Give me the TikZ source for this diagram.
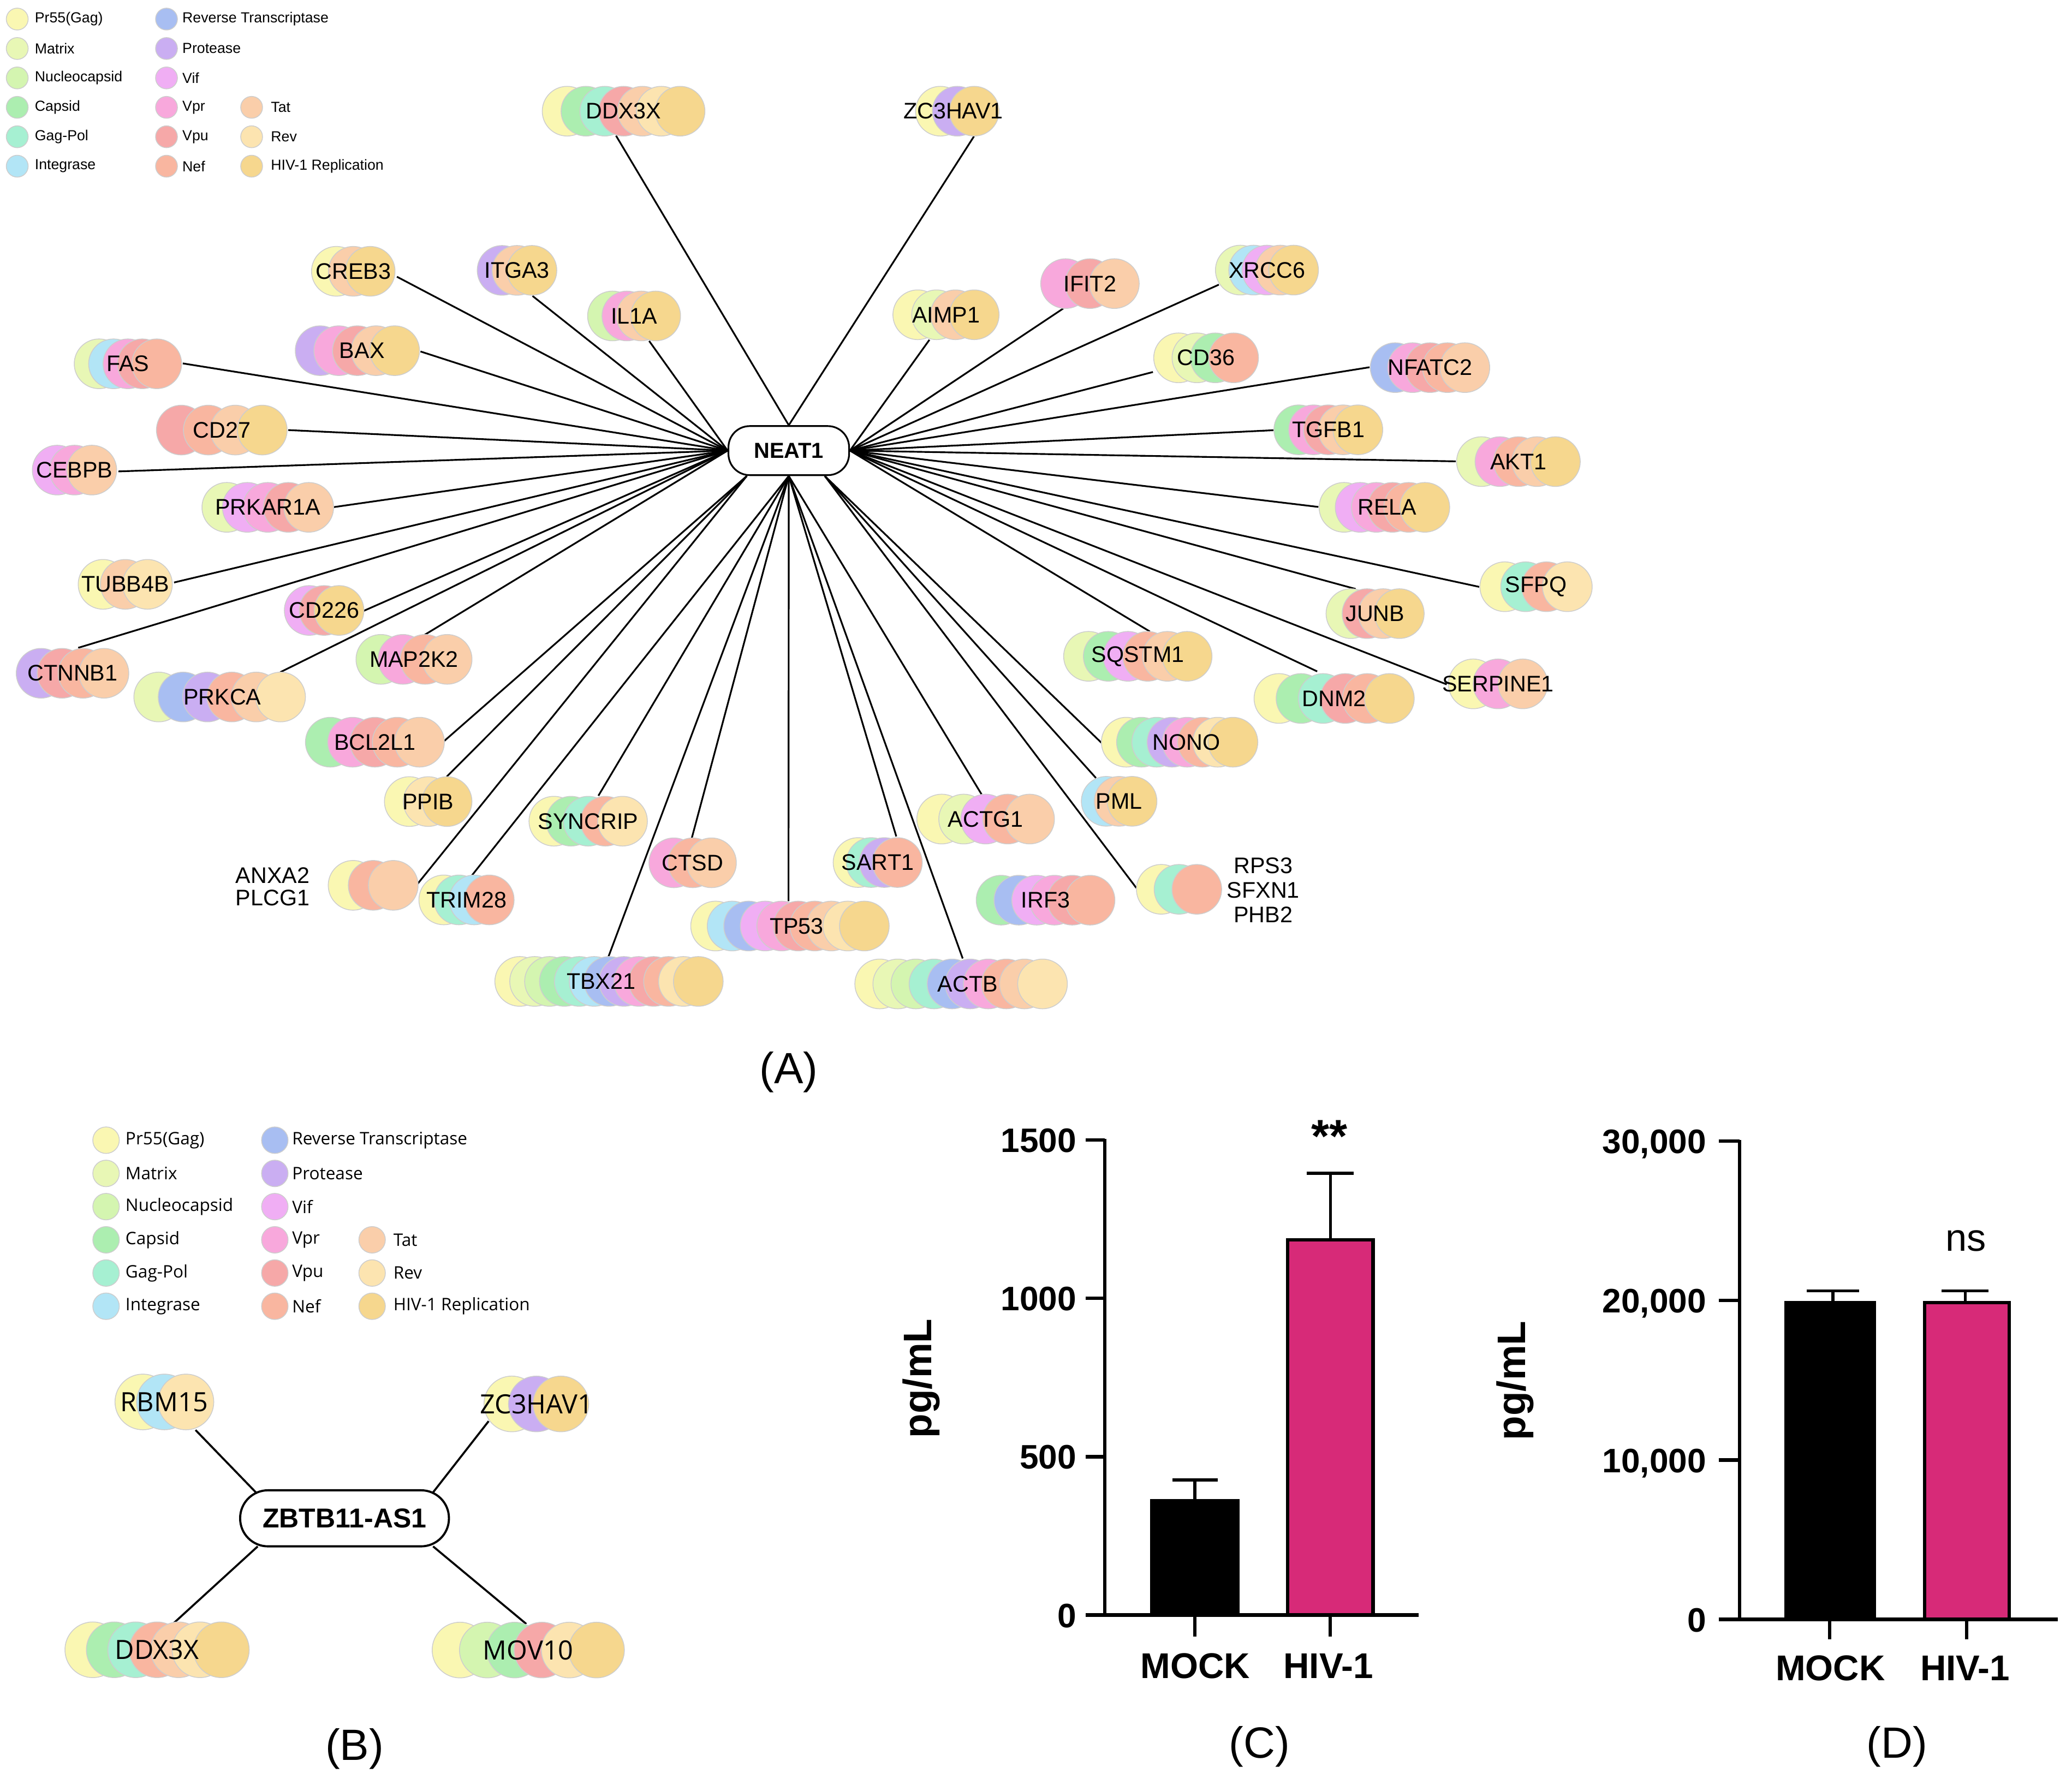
\documentclass[tikz,border=0pt]{standalone}
\usepackage{fontspec}
\setmainfont{Liberation Sans}
\newfontfamily\opensans{Open Sans}
\usetikzlibrary{calc}
\pgfdeclarelayer{bottom}
\pgfdeclarelayer{edges}
\pgfsetlayers{bottom,edges,main}
\definecolor{c1}{RGB}{250,247,178}
\definecolor{c2}{RGB}{232,247,181}
\definecolor{c3}{RGB}{212,245,176}
\definecolor{c4}{RGB}{172,238,176}
\definecolor{c5}{RGB}{166,240,210}
\definecolor{c6}{RGB}{178,229,246}
\definecolor{c7}{RGB}{168,190,242}
\definecolor{c8}{RGB}{202,174,242}
\definecolor{c9}{RGB}{240,174,244}
\definecolor{c10}{RGB}{248,168,220}
\definecolor{c11}{RGB}{246,168,168}
\definecolor{c12}{RGB}{249,182,160}
\definecolor{c13}{RGB}{250,206,170}
\definecolor{c14}{RGB}{252,228,176}
\definecolor{c15}{RGB}{246,215,142}
\definecolor{circgray}{RGB}{205,205,205}
\definecolor{hivpink}{RGB}{215,42,120}
\newcommand\fGene{\fontsize{8.5pt}{10pt}\selectfont}
\newcommand\fLegA{\fontsize{5.5pt}{6.5pt}\selectfont}
\newcommand\fLegB{\opensans\fontsize{6.5pt}{7.5pt}\selectfont}
\newcommand\fGeneB{\opensans\fontsize{10pt}{11pt}\selectfont}
\newcommand\fHub{\bfseries\fontsize{8.2pt}{9pt}\selectfont}
\newcommand\fHubB{\bfseries\fontsize{10.3pt}{11pt}\selectfont}
\newcommand\fTick{\bfseries\fontsize{12.8pt}{14pt}\selectfont}
\newcommand\fCat{\bfseries\fontsize{13.5pt}{15pt}\selectfont}
\newcommand\fAxis{\bfseries\fontsize{15pt}{16pt}\selectfont}
\newcommand\fPanel{\fontsize{16.5pt}{18pt}\selectfont}
\newcommand\fNs{\fontsize{14.5pt}{16pt}\selectfont}
\newcommand\fStar{\bfseries\fontsize{17.5pt}{19pt}\selectfont}
\tikzset{
  gcirc/.style={draw=circgray, line width=0.3pt},
  glabA/.style={inner sep=0pt, font=\fGene, align=center},
  glabB/.style={inner sep=0pt, font=\fGeneB, align=center},
  lnk/.style={line width=0.65pt, black},
  lnkB/.style={line width=0.75pt, black},
  hub/.style={draw, fill=white, line width=0.65pt, rounded corners=8pt, minimum width=45.5pt, minimum height=18.5pt, inner sep=0pt, font=\fHub},
  hubB/.style={draw, fill=white, line width=0.8pt, rounded corners=10.5pt, minimum width=78.75pt, minimum height=21.15pt, inner sep=0pt, font=\fHubB},
  legAc/.style={circle, draw=circgray, line width=0.3pt, minimum size=8.25pt, inner sep=0pt},
  legAt/.style={anchor=west, inner sep=0pt, font=\fLegA},
  legBc/.style={circle, draw=circgray, line width=0.3pt, minimum size=10pt, inner sep=0pt},
  legBt/.style={anchor=west, inner sep=0pt, font=\fLegB},
  axisl/.style={line width=1.3pt, black},
  errl/.style={line width=1.1pt, black},
  tickl/.style={font=\fTick, inner sep=0pt, anchor=base east},
  catl/.style={font=\fCat, inner sep=0pt, anchor=base},
  ylab/.style={font=\fAxis, inner sep=0pt, rotate=90},
  starl/.style={font=\fStar, inner sep=0pt, anchor=base},
  nsl/.style={font=\fNs, inner sep=0pt, anchor=base},
  panl/.style={font=\fPanel, inner sep=0pt}
}
% #1 name, #2 cx, #3 cy, #4 width, #5 n, #6 colours, #7 label, #8 diameter, #9 label style
\newcommand\genebase[9]{%
  \foreach \cc [count=\ii from 0] in {#6}{%
    \pgfmathsetmacro\gx{#2-#4/2+#8/2+\ii*(#4-#8)/(#5-1)}%
    \filldraw[gcirc, fill=\cc] (\gx,#3) circle[radius=#8/2];
  }%
  \node[#9, minimum width=#4*0.5pt, minimum height=#8*0.5pt] (#1) at (#2,#3) {#7};
}
% optional first argument: horizontal shift of the label (in picture units)
\newcommand\geneA[8][0]{\genebase{#2}{#3}{#4}{#5}{#6}{#7}{\kern#1pt #8}{37.5}{glabA}}
\newcommand\geneB[7]{\genebase{#1}{#2}{#3}{#4}{#5}{#6}{#7}{42}{glabB}}
\begin{document}
\begin{tikzpicture}[x=0.5pt,y=-0.5pt]
\useasboundingbox (0,0) rectangle (1563,1342);
\begin{pgfonlayer}{bottom}
\fill[white] (0,0) rectangle (1563,1342);
\end{pgfonlayer}

% ---------------- legend A
\foreach \tx/\cl/\k in {Pr55(Gag)/c1/0, Matrix/c2/1, Nucleocapsid/c3/2, Capsid/c4/3, Gag-Pol/c5/4, Integrase/c6/5}{
  \node[legAc, fill=\cl] (lAca\k) at (13,{14.4+22.2*\k}) {};
  \node[legAt] (lAta\k) at (25.9,{14.4+22.2*\k}) {\tx};
}
\foreach \tx/\cl/\k in {Reverse Transcriptase/c7/0, Protease/c8/1, Vif/c9/2, Vpr/c10/3, Vpu/c11/4, Nef/c12/5}{
  \node[legAc, fill=\cl] (lAcb\k) at (125.6,{14.4+22.2*\k}) {};
  \node[legAt] (lAtb\k) at (137.2,{14.4+22.2*\k}) {\tx};
}
\foreach \tx/\cl/\k in {Tat/c13/3, Rev/c14/4, HIV-1 Replication/c15/5}{
  \node[legAc, fill=\cl] (lAcc\k) at (189.8,{14.4+22.2*\k}) {};
  \node[legAt] (lAtc\k) at (204,{14.4+22.2*\k}) {\tx};
}

% ---------------- network A
\geneA{ddx}{470.4}{83.9}{122.7}{7}{c1,c4,c5,c11,c13,c14,c15}{DDX3X}
\geneA[-3]{zc}{722.1}{83.9}{63}{3}{c1,c8,c15}{ZC3HAV1}
\geneA{creb}{266.5}{204.7}{63}{3}{c1,c13,c15}{CREB3}
\geneA{itga}{390}{204}{60}{3}{c8,c13,c15}{ITGA3}
\geneA{ilia}{478.3}{238.4}{70.1}{4}{c3,c10,c13,c15}{IL1A}
\geneA{fas}{96.5}{274.5}{81}{5}{c2,c6,c10,c11,c12}{FAS}
\geneA[3.5]{bax}{269.6}{264.6}{93.7}{5}{c8,c10,c11,c13,c15}{BAX}
\geneA{cdtwo}{167.3}{324.5}{98.6}{4}{c11,c12,c13,c15}{CD27}
\geneA{cebpb}{56.2}{354.7}{63.6}{3}{c9,c10,c13}{CEBPB}
\geneA{prkar}{202}{382.8}{99.3}{5}{c2,c9,c10,c11,c13}{PRKAR1A}
\geneA{tubb}{94.5}{440.9}{71}{3}{c1,c13,c14}{TUBB4B}
\geneA{cdtt}{244.5}{460.6}{60}{3}{c9,c11,c15}{CD226}
\geneA{ctnnb}{54.7}{508}{84.9}{4}{c8,c11,c12,c13}{CTNNB1}
\geneA[2]{prkca}{165.7}{525.9}{129.4}{6}{c2,c7,c8,c12,c13,c14}{PRKCA}
\geneA{mapk}{312.3}{497.5}{87.5}{4}{c3,c10,c12,c13}{MAP2K2}
\geneA{bcl}{282.8}{560}{104.8}{5}{c4,c10,c11,c12,c13}{BCL2L1}
\geneA{ppib}{323}{604.8}{66}{3}{c1,c14,c15}{PPIB}
\geneA{anx}{281.5}{668}{67.8}{3}{c1,c12,c13}{}
\node[inner sep=0pt, align=center, font=\fontsize{8.5pt}{8.5pt}\selectfont] (anxlab) at (205.7,669) {ANXA2\\PLCG1};
\geneA{trim}{351.9}{679}{71.8}{4}{c1,c5,c6,c12}{TRIM28}
\geneA{syn}{443.7}{619.6}{89.3}{5}{c1,c4,c5,c12,c14}{SYNCRIP}
\geneA{ctsd}{522.5}{651}{65.9}{3}{c10,c12,c13}{CTSD}
\geneA[-6]{tbx}{459.4}{740.5}{172.2}{13}{c1,c2,c3,c4,c5,c6,c7,c8,c10,c11,c12,c14,c15}{TBX21}
\geneA[5]{tp}{595.9}{698.7}{149.7}{10}{c1,c6,c7,c9,c10,c11,c12,c13,c14,c15}{TP53}
\geneA{sart}{662.1}{650.8}{67.2}{4}{c1,c5,c8,c12}{SART1}
\geneA{actg}{743.5}{618}{103.8}{5}{c1,c2,c9,c12,c13}{ACTG1}
\geneA[5]{actb}{725}{742.4}{160.3}{10}{c1,c2,c3,c5,c7,c8,c10,c12,c13,c14}{ACTB}
\geneA{irf}{788.7}{679.2}{104.6}{6}{c4,c7,c9,c10,c11,c12}{IRF3}
\geneA{rps}{889.4}{671}{64.3}{3}{c1,c5,c12}{}
\node[inner sep=0pt, align=center, font=\fontsize{8.5pt}{9.3pt}\selectfont] (rpslab) at (952.9,671.5) {RPS3\\SFXN1\\PHB2};
\geneA{pml}{844.2}{604.6}{57}{3}{c6,c13,c15}{PML}
\geneA[5]{nono}{889.8}{560}{118}{8}{c1,c4,c5,c8,c10,c12,c14,c15}{NONO}
\geneA{sqstm}{858.3}{495.2}{111.9}{6}{c2,c4,c9,c12,c13,c15}{SQSTM1}
\geneA{dnm}{1006.4}{527}{120.8}{6}{c1,c4,c5,c11,c12,c15}{DNM2}
\geneA{serp}{1130}{516}{74.9}{3}{c1,c10,c13}{SERPINE1}
\geneA{junb}{1037.3}{463}{74}{4}{c2,c11,c13,c15}{JUNB}
\geneA{sfpq}{1158.7}{442.7}{84.7}{4}{c1,c5,c12,c14}{SFPQ}
\geneA[2]{rela}{1044.3}{382.8}{98.5}{6}{c2,c9,c10,c11,c12,c15}{RELA}
\geneA{akt}{1145.4}{348.3}{93.3}{5}{c2,c10,c12,c13,c15}{AKT1}
\geneA{tgfb}{1002}{324.3}{82.1}{5}{c4,c10,c11,c13,c15}{TGFB1}
\geneA{nfat}{1078.7}{277.4}{90.1}{5}{c7,c10,c11,c12,c13}{NFATC2}
\geneA{cdts}{909.8}{270}{79}{4}{c1,c2,c4,c12}{CD36}
\geneA{xrcc}{955.7}{203.8}{77.7}{5}{c2,c6,c9,c13,c15}{XRCC6}
\geneA{ifit}{822.2}{214}{74.3}{3}{c10,c11,c13}{IFIT2}
\geneA{aimp}{713.6}{237.5}{80.1}{4}{c1,c2,c13,c15}{AIMP1}

\node[hub] (neat) at (595,340) {NEAT1};
\coordinate (nSW) at ($(neat.south west)+(14.5,0)$);
\coordinate (nSE) at ($(neat.south east)+(-19,0)$);

\begin{pgfonlayer}{edges}
% north
\draw[lnk] (neat.north) -- ($(ddx)+(-5.7,18.5)$);
\draw[lnk] (neat.north) -- ($(zc)+(12.6,19)$);
% west
\draw[lnk] (neat.west) -- ($(creb)+(32.9,4.1)$);
\draw[lnk] (neat.west) -- ($(itga)+(11.7,19.3)$);
\draw[lnk] (neat.west) -- ($(ilia)+(11.4,18.9)$);
\draw[lnk] (neat.west) -- ($(fas)+(41.4,-0.3)$);
\draw[lnk] (neat.west) -- ($(bax)+(47.6,0.6)$);
\draw[lnk] (neat.west) -- ($(cdtwo)+(50.1,0)$);
\draw[lnk] (neat.west) -- ($(cebpb)+(33.1,1)$);
\draw[lnk] (neat.west) -- ($(prkar)+(50,-0.2)$);
\draw[lnk] (neat.west) -- ($(tubb)+(36.8,-1.4)$);
\draw[lnk] (neat.west) -- ($(cdtt)+(29.9,0.3)$);
\draw[lnk] (neat.west) -- ($(ctnnb)+(4.3,-19.2)$);
\draw[lnk] (neat.west) -- ($(prkca)+(45.7,-18.7)$);
\draw[lnk] (neat.west) -- ($(mapk)+(7.7,-18.3)$);
% south-west
\draw[lnk] (nSW) -- ($(bcl)+(52.4,-1)$);
\draw[lnk] (nSW) -- ($(ppib)+(14,-18.8)$);
\draw[lnk] (nSW) -- ($(anx)+(32.7,-0.1)$);
% south
\draw[lnk] (neat.south) -- ($(trim)+(4.1,-18.5)$);
\draw[lnk] (neat.south) -- ($(syn)+(7.7,-19.2)$);
\draw[lnk] (neat.south) -- ($(ctsd)+(-0.7,-18.5)$);
\draw[lnk] (neat.south) -- ($(tbx)+(-0.4,-18.7)$);
\draw[lnk] (neat.south) -- ($(tp)+(-1.1,-18.7)$);
\draw[lnk] (neat.south) -- ($(sart)+(14,-19.7)$);
\draw[lnk] (neat.south) -- ($(actg)+(-3.1,-18.7)$);
\draw[lnk] (neat.south) -- ($(actb)+(1.2,-19.2)$);
% south-east
\draw[lnk] (nSE) -- ($(rps)+(-32.2,-1)$);
\draw[lnk] (nSE) -- ($(pml)+(-17.5,-17.6)$);
\draw[lnk] (nSE) -- ($(nono)+(-59,0.4)$);
% east
\draw[lnk] (neat.east) -- ($(sqstm)+(9.1,-18.7)$);
\draw[lnk] (neat.east) -- ($(dnm)+(-12.8,-20.4)$);
\draw[lnk] (neat.east) -- ($(serp)+(-38.7,0.4)$);
\draw[lnk] (neat.east) -- ($(junb)+(-14.7,-18.6)$);
\draw[lnk] (neat.east) -- ($(sfpq)+(-42.9,0.1)$);
\draw[lnk] (neat.east) -- ($(rela)+(-49.8,-0.3)$);
\draw[lnk] (neat.east) -- ($(akt)+(-47.2,-0.2)$);
\draw[lnk] (neat.east) -- ($(tgfb)+(-41.1,0.3)$);
\draw[lnk] (neat.east) -- ($(nfat)+(-45.6,-0.3)$);
\draw[lnk] (neat.east) -- ($(cdts)+(-40.1,10.7)$);
\draw[lnk] (neat.east) -- ($(xrcc)+(-36.3,11)$);
\draw[lnk] (neat.east) -- ($(ifit)+(-20.2,18.8)$);
\draw[lnk] (neat.east) -- ($(aimp)+(-12.5,18.9)$);
\end{pgfonlayer}

\node[panl] (pA) at (595,809) {(A)};

% ---------------- legend B
\foreach \tx/\cl/\k in {Pr55(Gag)/c1/0, Matrix/c2/1, Nucleocapsid/c3/2, Capsid/c4/3, Gag-Pol/c5/4, Integrase/c6/5}{
  \node[legBc, fill=\cl] (lBca\k) at (80,{860.3+25.06*\k}) {};
  \node[legBt] (lBta\k) at (94.3,{860.3+25.06*\k}) {\tx};
}
\foreach \tx/\cl/\k in {Reverse Transcriptase/c7/0, Protease/c8/1, Vif/c9/2, Vpr/c10/3, Vpu/c11/4, Nef/c12/5}{
  \node[legBc, fill=\cl] (lBcb\k) at (207.3,{860.3+25.06*\k}) {};
  \node[legBt] (lBtb\k) at (220,{860.3+25.06*\k}) {\tx};
}
\foreach \tx/\cl/\k in {Tat/c13/3, Rev/c14/4, HIV-1 Replication/c15/5}{
  \node[legBc, fill=\cl] (lBcc\k) at (280.7,{860.3+25.06*\k}) {};
  \node[legBt] (lBtc\k) at (296.4,{860.3+25.06*\k}) {\tx};
}

% ---------------- network B
\geneB{rbm}{124}{1057.8}{74.5}{3}{c1,c6,c14}{RBM15}
\geneB{zcb}{404.6}{1059.3}{79}{3}{c1,c8,c15}{ZC3HAV1}
\geneB{ddxb}{118.5}{1244.8}{139}{7}{c1,c4,c5,c12,c13,c14,c15}{DDX3X}
\geneB{mov}{398.5}{1245}{145}{6}{c1,c3,c4,c11,c14,c15}{MOV10}
\node[hubB] (zb) at (259.9,1145.6) {ZBTB11-AS1};
\begin{pgfonlayer}{edges}
\draw[lnkB] ($(zb)+(-66.9,-19.6)$) -- ($(rbm)+(23.5,21.2)$);
\draw[lnkB] ($(zb)+(66.8,-19.6)$) -- ($(zcb)+(-36,13)$);
\draw[lnkB] ($(zb)+(-65.5,21.2)$) -- ($(ddxb)+(11.1,-18.8)$);
\draw[lnkB] ($(zb)+(66.8,21.2)$) -- ($(mov)+(-1.5,-19.7)$);
\end{pgfonlayer}
\node[panl] (pB) at (267.4,1319.7) {(B)};

% ---------------- chart C
\fill[black] (867.6,1218.6) rectangle (935,1131);
\draw[axisl, fill=hivpink] (971.3,1218.6) rectangle (1035.7,935.6);
\draw[errl] (901.3,1131) -- (901.3,1116.7) (884.6,1116.7) -- (918.8,1116.7);
\draw[errl] (1003.5,935) -- (1003.5,885.3) (985.7,885.3) -- (1021.2,885.3);
\draw[axisl] (833.4,859.5) -- (833.4,1218.6);
\draw[axisl] (819,1218.6) -- (1070,1218.6);
\foreach \v in {500,1000,1500} \draw[axisl] (819,{1218.6-0.239*\v}) -- (833.4,{1218.6-0.239*\v});
\draw[axisl] (901.3,1218.6) -- (901.3,1235);
\draw[axisl] (1003.5,1218.6) -- (1003.5,1235);
\node[tickl] (cy0) at (812.4,1227.9) {0};
\node[tickl] (cy1) at (812.4,1108.4) {500};
\node[tickl] (cy2) at (812.4,988.9) {1000};
\node[tickl] (cy3) at (812.4,869.4) {1500};
\node[catl] (cmock) at (901.6,1266.3) {MOCK};
\node[catl] (chiv) at (1002,1266.3) {HIV-1};
\node[ylab] (cyl) at (695,1040) {pg/mL};
\node[starl] (cstar) at (1002.8,869.5) {**};
\node[panl] (pC) at (950,1318) {(C)};

% ---------------- chart D
\fill[black] (1346,1221.9) rectangle (1415.2,981.5);
\draw[axisl, fill=hivpink] (1451.8,1221.9) rectangle (1515.7,982.8);
\draw[errl] (1382.7,981.5) -- (1382.7,973.9) (1362.9,973.9) -- (1402.5,973.9);
\draw[errl] (1482.4,982) -- (1482.4,973.9) (1464.7,973.9) -- (1500,973.9);
\draw[axisl] (1312.1,860.3) -- (1312.1,1221.9);
\draw[axisl] (1296.5,1221.9) -- (1552.3,1221.9);
\foreach \yy in {1101.6,981.3,861.0} \draw[axisl] (1296.5,\yy) -- (1312.1,\yy);
\draw[axisl] (1380.3,1221.9) -- (1380.3,1236.8);
\draw[axisl] (1483.5,1221.9) -- (1483.5,1236.8);
\node[tickl] (dy0) at (1287.5,1231.2) {0};
\node[tickl] (dy1) at (1287.5,1110.9) {10,000};
\node[tickl] (dy2) at (1287.5,990.6) {20,000};
\node[tickl] (dy3) at (1287.5,870.3) {30,000};
\node[catl] (dmock) at (1380.7,1268) {MOCK};
\node[catl] (dhiv) at (1482.3,1268) {HIV-1};
\node[ylab] (dyl) at (1143,1041.7) {pg/mL};
\node[nsl] (dns) at (1483,944) {ns};
\node[panl] (pD) at (1431,1318) {(D)};
\end{tikzpicture}
\end{document}
